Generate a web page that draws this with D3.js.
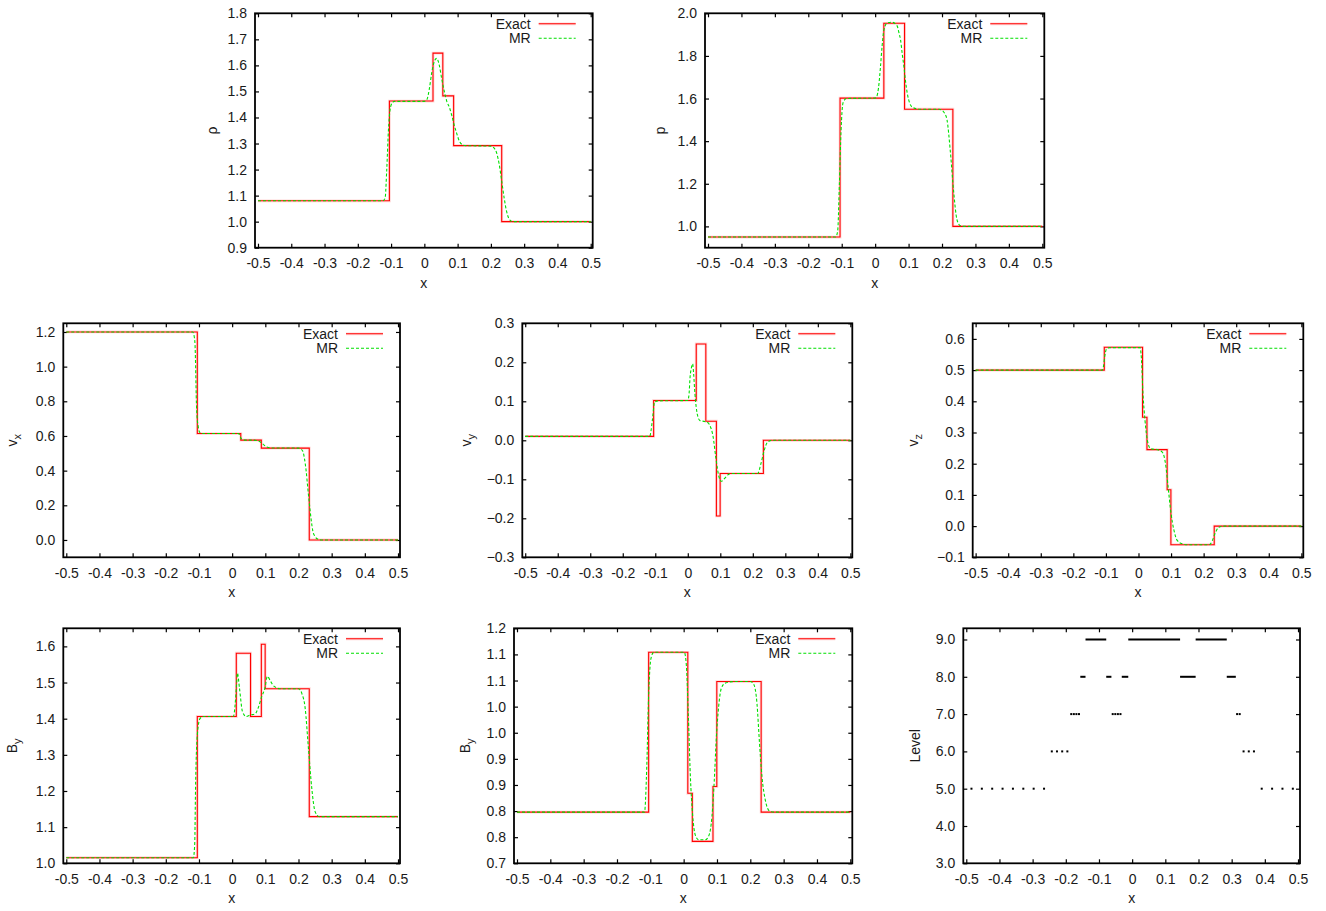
<!DOCTYPE html>
<html><head><meta charset="utf-8">
<script src="https://cdn.jsdelivr.net/npm/d3@7"></script>
<style>body{margin:0;background:#fff}svg text{font-family:"Liberation Sans",Arial,Helvetica,sans-serif}</style>
</head><body><svg id="c" width="1326" height="911"></svg>
<script>
// ---------- data ----------
const xTicks = [-0.5,-0.4,-0.3,-0.2,-0.1,0,0.1,0.2,0.3,0.4,0.5];
const xTickLabels = ["-0.5","-0.4","-0.3","-0.2","-0.1","0","0.1","0.2","0.3","0.4","0.5"];
const seriesNames = ["Exact","MR"];
// discontinuity positions of the exact solution (interval starts, last = end of domain)
const waveX = [-0.5,-0.105,0.0125,0.026,0.0555,0.088,0.0995,0.2325,0.5];
const rhoExact = [1.08,1.463,1.463,1.647,1.483,1.292,1.292,1.0];
const pExact   = [0.95,1.602,1.602,1.953,1.953,1.55,1.55,1.0];
const vxExact  = [1.2,0.614,0.614,0.576,0.576,0.530,0.530,0.0];
const vyExact  = [0.01,0.102,0.102,0.247,0.049,-0.194,-0.085,0.0];
const vzExact  = [0.5,0.573,0.349,0.245,0.245,0.1166,-0.0596,0.0];
const byExact  = [1.0155,1.406,1.581,1.581,1.406,1.606,1.483,1.129];
const bzExact  = [0.798,1.104,0.834,0.742,0.742,0.847,1.048,0.798];

const rhoMR = [[-0.5,1.08],[-0.125,1.08],[-0.118,1.09],[-0.113,1.2],[-0.108,1.35],[-0.103,1.43],[-0.097,1.455],[-0.09,1.462],[0.0,1.462],[0.008,1.47],[0.015,1.51],[0.022,1.57],[0.03,1.615],[0.037,1.627],[0.045,1.6],[0.052,1.55],[0.06,1.5],[0.068,1.46],[0.075,1.44],[0.082,1.41],[0.09,1.37],[0.097,1.34],[0.105,1.31],[0.115,1.295],[0.125,1.292],[0.2,1.29],[0.21,1.282],[0.217,1.265],[0.225,1.22],[0.232,1.16],[0.24,1.09],[0.247,1.04],[0.255,1.01],[0.265,1.0],[0.5,1.0]];
const pMR = [[-0.5,0.95],[-0.118,0.95],[-0.112,0.98],[-0.107,1.2],[-0.102,1.45],[-0.096,1.58],[-0.086,1.6],[0.0,1.602],[0.005,1.61],[0.01,1.65],[0.016,1.75],[0.021,1.85],[0.026,1.92],[0.036,1.955],[0.05,1.958],[0.066,1.94],[0.071,1.91],[0.076,1.875],[0.081,1.81],[0.086,1.75],[0.091,1.68],[0.096,1.625],[0.103,1.58],[0.111,1.56],[0.131,1.55],[0.191,1.55],[0.2,1.545],[0.208,1.53],[0.215,1.5],[0.225,1.35],[0.235,1.16],[0.245,1.03],[0.255,1.003],[0.265,1.0],[0.5,1.0]];
const vxMR = [[-0.5,1.2],[-0.119,1.2],[-0.115,1.18],[-0.112,1.13],[-0.107,0.75],[-0.102,0.65],[-0.097,0.62],[-0.087,0.614],[0.018,0.614],[0.022,0.608],[0.026,0.59],[0.03,0.58],[0.04,0.576],[0.063,0.576],[0.073,0.574],[0.083,0.568],[0.093,0.553],[0.103,0.538],[0.118,0.531],[0.2,0.53],[0.207,0.525],[0.213,0.512],[0.218,0.47],[0.223,0.4],[0.228,0.3],[0.233,0.207],[0.238,0.12],[0.243,0.054],[0.25,0.02],[0.258,0.005],[0.268,0.0],[0.5,0.0]];
const vyMR = [[-0.5,0.01],[-0.117,0.01],[-0.113,0.025],[-0.109,0.051],[-0.102,0.098],[-0.092,0.101],[0.0,0.102],[0.004,0.12],[0.007,0.162],[0.011,0.185],[0.015,0.196],[0.018,0.17],[0.022,0.119],[0.029,0.068],[0.037,0.051],[0.052,0.048],[0.062,0.045],[0.068,0.038],[0.078,0.0085],[0.086,-0.043],[0.096,-0.094],[0.103,-0.105],[0.113,-0.098],[0.128,-0.086],[0.14,-0.085],[0.215,-0.085],[0.225,-0.06],[0.235,-0.026],[0.245,-0.005],[0.26,0.0],[0.5,0.0]];
const vzMR = [[-0.5,0.5],[-0.111,0.5],[-0.107,0.515],[-0.104,0.541],[-0.098,0.568],[-0.088,0.572],[0.0046,0.572],[0.0087,0.541],[0.0138,0.424],[0.02,0.339],[0.0272,0.275],[0.0374,0.248],[0.058,0.245],[0.073,0.237],[0.083,0.2],[0.091,0.125],[0.1,0.04],[0.109,-0.014],[0.119,-0.046],[0.135,-0.057],[0.15,-0.06],[0.217,-0.06],[0.227,-0.046],[0.235,-0.024],[0.245,-0.005],[0.258,0.0],[0.5,0.0]];
const byMR = [[-0.5,1.0155],[-0.117,1.0155],[-0.113,1.05],[-0.11,1.226],[-0.105,1.355],[-0.097,1.4],[-0.087,1.406],[0.0038,1.406],[0.0089,1.438],[0.013,1.49],[0.016,1.526],[0.022,1.485],[0.031,1.42],[0.042,1.406],[0.054,1.41],[0.069,1.413],[0.079,1.431],[0.089,1.461],[0.099,1.485],[0.106,1.517],[0.116,1.503],[0.126,1.49],[0.144,1.483],[0.2,1.483],[0.21,1.47],[0.22,1.43],[0.23,1.318],[0.24,1.208],[0.25,1.143],[0.263,1.129],[0.5,1.129]];
const bzMR = [[-0.5,0.798],[-0.1175,0.798],[-0.1105,0.888],[-0.1054,1.016],[-0.098,1.0925],[-0.09,1.104],[0.002,1.104],[0.008,1.08],[0.014,0.984],[0.02,0.869],[0.027,0.792],[0.035,0.754],[0.045,0.745],[0.065,0.745],[0.075,0.752],[0.085,0.79],[0.092,0.86],[0.098,0.94],[0.105,1.0],[0.113,1.035],[0.125,1.045],[0.15,1.048],[0.2,1.048],[0.21,1.043],[0.22,1.006],[0.227,0.936],[0.235,0.866],[0.245,0.821],[0.258,0.80],[0.27,0.798],[0.5,0.798]];

// refinement levels
const lvl5X = [-0.4844,-0.4531,-0.4219,-0.3906,-0.3594,-0.3281,-0.2969,-0.2656,0.3906,0.4219,0.4531,0.4844];
const lvl6X = [-0.2422,-0.2266,-0.2109,-0.1953,0.3359,0.3516,0.3672];
const lvl7X = [-0.1836,-0.1758,-0.168,-0.1602,-0.0586,-0.0508,-0.043,-0.0352,0.3164,0.3242];
const lvl8Segs = [[-0.1563,-0.1406],[-0.0781,-0.0625],[-0.0313,-0.0117],[0.1445,0.1914],[0.2852,0.3125]];
const lvl9Segs = [[-0.1406,-0.0781],[-0.0117,0.1445],[0.1914,0.2852]];

// tick values / labels
const rhoTicks = [0.9,1.0,1.1,1.2,1.3,1.4,1.5,1.6,1.7,1.8];
const pTicks = [1.0,1.2,1.4,1.6,1.8,2.0];
const vxTicks = [0.0,0.2,0.4,0.6,0.8,1.0,1.2];
const vyTicks = [-0.3,-0.2,-0.1,0.0,0.1,0.2,0.3];
const vzTicks = [-0.1,0.0,0.1,0.2,0.3,0.4,0.5,0.6];
const byTicks = [1.0,1.1,1.2,1.3,1.4,1.5,1.6];
const bzTicks = [0.7,0.75,0.8,0.85,0.9,0.95,1.0,1.05,1.1,1.15];
const bzTickLabels = ["0.7","0.8","0.8","0.9","0.9","1.0","1.0","1.1","1.1","1.2"];
const lvlTicks = [3,4,5,6,7,8,9];

// ---------- layout ----------
const xDomain = [-0.509, 0.506];
const FS = 14;
const panels = [
  {lab:["ρ"], yd:[0.9,1.8], yt:rhoTicks, ex:rhoExact, mr:rhoMR, r:{l:255,t:13.3,r:592.7,b:247.7}, lx:211.7},
  {lab:["p"], yd:[0.9,2.0], yt:pTicks, ex:pExact, mr:pMR, r:{l:705,t:13.3,r:1044.3,b:247.7}, lx:660},
  {lab:["v","x"], yd:[-0.1,1.25], yt:vxTicks, ex:vxExact, mr:vxMR, r:{l:63.3,t:323.3,r:400,b:557.3}, lx:11.7},
  {lab:["v","y"], yd:[-0.3,0.3], yt:vyTicks, ex:vyExact, mr:vyMR, r:{l:522.3,t:323.3,r:852.3,b:557.3}, lx:466},
  {lab:["v","z"], yd:[-0.1,0.65], yt:vzTicks, ex:vzExact, mr:vzMR, r:{l:972.7,t:323.3,r:1303.3,b:557.3}, lx:913},
  {lab:["B","y"], yd:[1.0,1.65], yt:byTicks, ex:byExact, mr:byMR, r:{l:63.3,t:628.3,r:400,b:863.3}, lx:12},
  {lab:["B","y"], yd:[0.7,1.15], yt:bzTicks, ytl:bzTickLabels, ex:bzExact, mr:bzMR, r:{l:514,t:628.3,r:852.3,b:863.3}, lx:465},
  {lab:["Level"], yd:[3.0,9.3], yt:lvlTicks, fmt:d3.format(".1f"), level:true, r:{l:963.3,t:628.3,r:1300,b:863.3}, lx:915}
];

const svg = d3.select("#c");
const defs = svg.append("defs");
const HALO = "rgba(255,110,110,0.28)";

panels.forEach((p, pi) => {
  const R = p.r;
  const x = d3.scaleLinear().domain(xDomain).range([R.l, R.r]);
  const y = d3.scaleLinear().domain(p.yd).range([R.b, R.t]);
  const g = svg.append("g");
  const cid = "clip" + pi;
  defs.append("clipPath").attr("id", cid).append("rect")
    .attr("x", R.l).attr("y", R.t).attr("width", R.r - R.l).attr("height", R.b - R.t);

  const fmt = p.ytl ? ((d, i) => p.ytl[i]) : (p.fmt || (d => d3.format(".1f")(d)));
  const styleAxis = sel => {
    sel.select(".domain").remove();
    sel.selectAll(".tick line").attr("stroke", "#000").attr("stroke-width", 1.2);
    sel.attr("font-size", FS).attr("font-family", '"Liberation Sans",Arial,sans-serif');
    sel.selectAll(".tick text").attr("fill", "#1a1a1a");
  };
  g.append("g").attr("transform", `translate(0,${R.b})`)
    .call(d3.axisBottom(x).tickValues(xTicks).tickFormat((d, i) => xTickLabels[i]).tickSizeInner(-4).tickSizeOuter(0).tickPadding(10.5))
    .call(styleAxis);
  g.append("g").attr("transform", `translate(0,${R.t})`)
    .call(d3.axisTop(x).tickValues(xTicks).tickFormat("").tickSizeInner(-4).tickSizeOuter(0))
    .call(styleAxis);
  g.append("g").attr("transform", `translate(${R.l},0)`)
    .call(d3.axisLeft(y).tickValues(p.yt).tickFormat(fmt).tickSizeInner(-4).tickSizeOuter(0).tickPadding(8))
    .call(styleAxis);
  g.append("g").attr("transform", `translate(${R.r},0)`)
    .call(d3.axisRight(y).tickValues(p.yt).tickFormat("").tickSizeInner(-4).tickSizeOuter(0))
    .call(styleAxis);

  // axis labels
  g.append("text").attr("x", (R.l + R.r) / 2).attr("y", R.b + 40)
    .attr("text-anchor", "middle").attr("font-size", FS).attr("fill", "#1a1a1a").text("x");
  const yl = g.append("text").attr("transform", `translate(${p.lx},${(R.t + R.b) / 2}) rotate(-90)`)
    .attr("text-anchor", "middle").attr("dy", "0.35em").attr("font-size", FS).attr("fill", "#1a1a1a");
  yl.append("tspan").text(p.lab[0]);
  if (p.lab[1]) yl.append("tspan").attr("dy", 4).attr("font-size", 11).text(p.lab[1]);

  const plot = g.append("g").attr("clip-path", `url(#${cid})`);
  if (p.level) {
    const dots = [].concat(lvl5X.map(v => [v, 5]), lvl6X.map(v => [v, 6]), lvl7X.map(v => [v, 7]));
    plot.selectAll("rect.dot").data(dots).join("rect").attr("class", "dot")
      .attr("x", d => x(d[0]) - 1).attr("y", d => y(d[1]) - 1).attr("width", 2).attr("height", 2).attr("fill", "#000");
    const segs = [].concat(lvl8Segs.map(s => [s[0], s[1], 8]), lvl9Segs.map(s => [s[0], s[1], 9]));
    plot.selectAll("rect.seg").data(segs).join("rect").attr("class", "seg")
      .attr("x", d => x(d[0])).attr("y", d => y(d[2]) - 1)
      .attr("width", d => x(d[1]) - x(d[0])).attr("height", 2).attr("fill", "#000");
  } else {
    const exPts = waveX.map((xv, i) => [xv, p.ex[Math.min(i, p.ex.length - 1)]]);
    const stepLine = d3.line().x(d => x(d[0])).y(d => y(d[1])).curve(d3.curveStepAfter);
    const smoothLine = d3.line().x(d => x(d[0])).y(d => y(d[1])).curve(d3.curveMonotoneX);
    plot.append("path").attr("d", stepLine(exPts)).attr("fill", "none")
      .attr("stroke", HALO).attr("stroke-width", 2.8);
    plot.append("path").attr("d", stepLine(exPts)).attr("fill", "none")
      .attr("stroke", "#ff0000").attr("stroke-width", 1.1);
    plot.append("path").attr("d", smoothLine(p.mr)).attr("fill", "none")
      .attr("stroke", "#00e000").attr("stroke-width", 1.1).attr("stroke-dasharray", "3,2");

    // legend
    const lg = g.append("g");
    const rows = [{n: seriesNames[0], dy: 10.5, c: "#ff0000", dash: null},
                  {n: seriesNames[1], dy: 25, c: "#00e000", dash: "3,2"}];
    rows.forEach(rw => {
      lg.append("text").attr("x", R.r - 62).attr("y", R.t + rw.dy).attr("dy", "0.35em")
        .attr("text-anchor", "end").attr("font-size", FS).attr("fill", "#1a1a1a").text(rw.n);
      if (!rw.dash) {
        lg.append("line").attr("x1", R.r - 54).attr("x2", R.r - 17).attr("y1", R.t + rw.dy).attr("y2", R.t + rw.dy)
          .attr("stroke", HALO).attr("stroke-width", 2.8);
      }
      lg.append("line").attr("x1", R.r - 54).attr("x2", R.r - 17).attr("y1", R.t + rw.dy).attr("y2", R.t + rw.dy)
        .attr("stroke", rw.c).attr("stroke-width", 1.1).attr("stroke-dasharray", rw.dash);
    });
  }
  // border
  g.append("rect").attr("x", R.l).attr("y", R.t).attr("width", R.r - R.l).attr("height", R.b - R.t)
    .attr("fill", "none").attr("stroke", "#000").attr("stroke-width", 1.8);
});
</script></body></html>
